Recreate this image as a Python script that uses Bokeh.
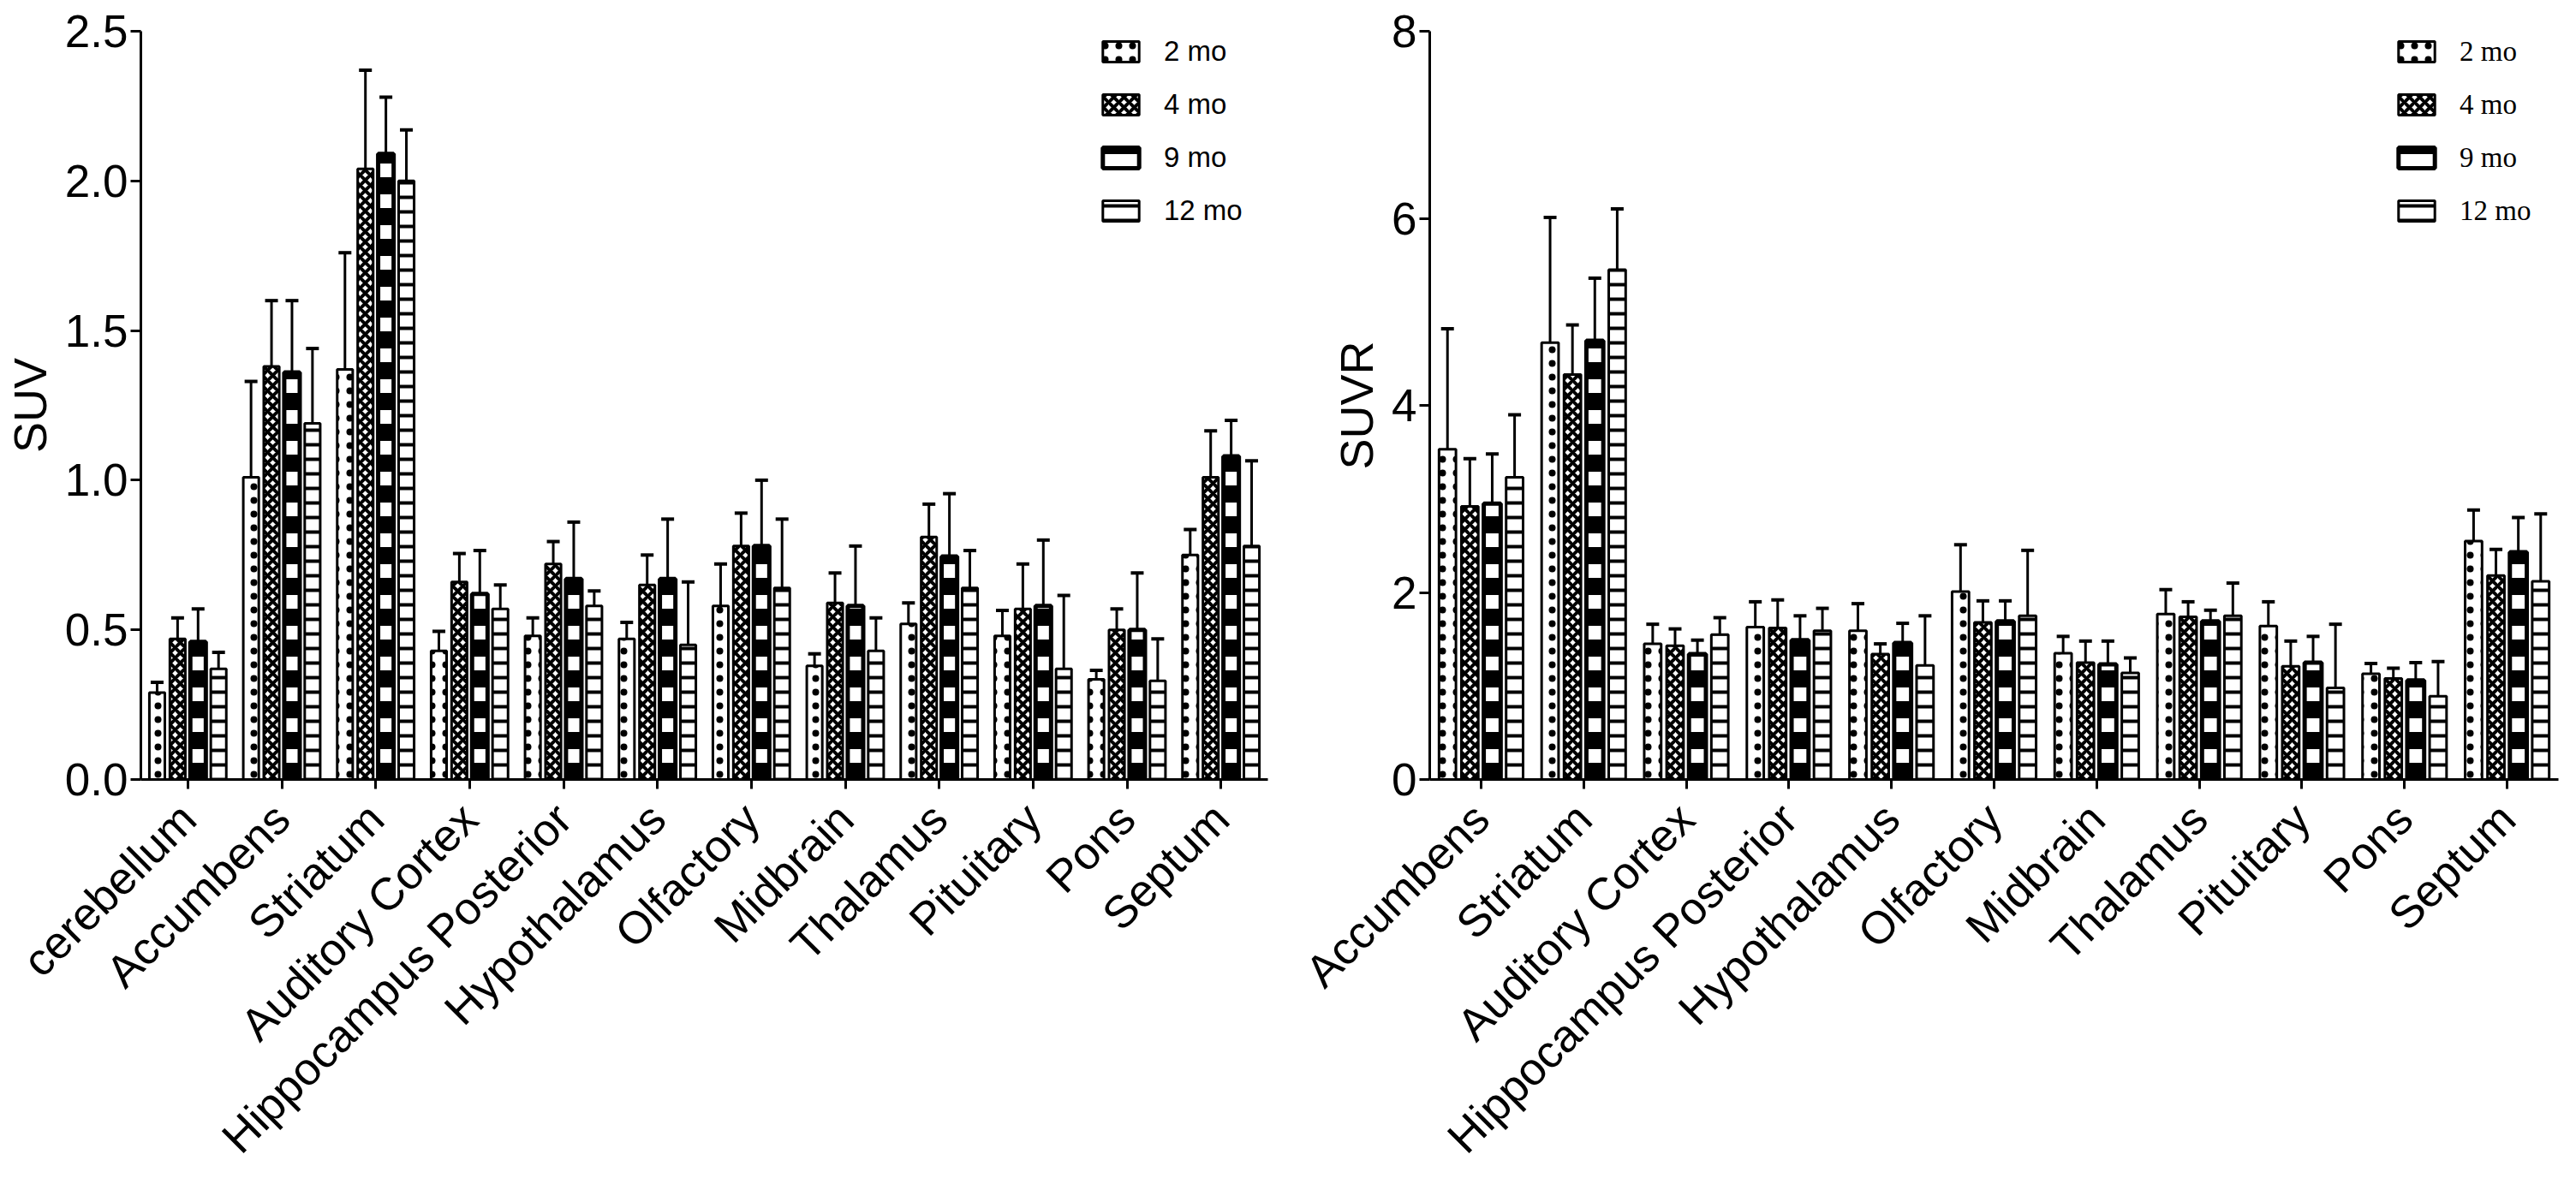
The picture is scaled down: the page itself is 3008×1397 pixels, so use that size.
import math
from bokeh.plotting import figure
from bokeh.models import (ColumnDataSource, FactorRange, Range1d, FixedTicker,
                          Whisker, TeeHead, Legend, LegendItem, PrintfTickFormatter)
from bokeh.transform import dodge
from bokeh.layouts import row
from bokeh.embed import file_html
from bokeh.resources import INLINE

# ---------------- data ----------------
groups = ["2 mo", "4 mo", "9 mo", "12 mo"]

suv_regions = ["cerebellum", "Accumbens", "Striatum", "Auditory Cortex",
               "Hippocampus Posterior", "Hypothalamus", "Olfactory", "Midbrain",
               "Thalamus", "Pituitary", "Pons", "Septum"]
suv_2mo = [0.29, 1.01, 1.37, 0.43, 0.48, 0.47, 0.58, 0.38, 0.52, 0.48, 0.335, 0.75]
suv_4mo = [0.47, 1.38, 2.04, 0.66, 0.72, 0.65, 0.78, 0.59, 0.81, 0.57, 0.50, 1.01]
suv_9mo = [0.46, 1.36, 2.09, 0.62, 0.67, 0.67, 0.78, 0.58, 0.745, 0.58, 0.50, 1.08]
suv_12mo = [0.37, 1.19, 2.00, 0.57, 0.58, 0.45, 0.64, 0.43, 0.64, 0.37, 0.33, 0.78]
suv_2mo_sd = [0.035, 0.32, 0.39, 0.065, 0.06, 0.055, 0.14, 0.04, 0.07, 0.085, 0.03, 0.085]
suv_4mo_sd = [0.07, 0.22, 0.33, 0.095, 0.075, 0.10, 0.11, 0.10, 0.11, 0.15, 0.07, 0.155]
suv_9mo_sd = [0.11, 0.24, 0.19, 0.145, 0.19, 0.20, 0.22, 0.20, 0.21, 0.22, 0.19, 0.12]
suv_12mo_sd = [0.055, 0.25, 0.17, 0.08, 0.05, 0.21, 0.23, 0.11, 0.125, 0.245, 0.14, 0.285]
suv_ticks = [0, 0.5, 1.0, 1.5, 2.0, 2.5]

suvr_regions = ["Accumbens", "Striatum", "Auditory Cortex", "Hippocampus Posterior",
                "Hypothalamus", "Olfactory", "Midbrain", "Thalamus", "Pituitary",
                "Pons", "Septum"]
suvr_2mo = [3.53, 4.67, 1.45, 1.63, 1.59, 2.01, 1.35, 1.77, 1.64, 1.13, 2.55]
suvr_4mo = [2.92, 4.33, 1.43, 1.62, 1.34, 1.68, 1.25, 1.74, 1.21, 1.08, 2.18]
suvr_9mo = [2.95, 4.69, 1.34, 1.49, 1.46, 1.69, 1.23, 1.69, 1.25, 1.06, 2.43]
suvr_12mo = [3.23, 5.45, 1.55, 1.59, 1.22, 1.75, 1.14, 1.75, 0.98, 0.89, 2.12]
suvr_2mo_sd = [1.29, 1.34, 0.21, 0.27, 0.29, 0.50, 0.18, 0.26, 0.26, 0.11, 0.33]
suvr_4mo_sd = [0.51, 0.53, 0.18, 0.30, 0.11, 0.23, 0.23, 0.16, 0.27, 0.11, 0.28]
suvr_9mo_sd = [0.53, 0.67, 0.15, 0.26, 0.21, 0.22, 0.25, 0.12, 0.28, 0.19, 0.37]
suvr_12mo_sd = [0.67, 0.65, 0.18, 0.24, 0.53, 0.70, 0.16, 0.35, 0.68, 0.37, 0.72]
suvr_ticks = [0, 2, 4, 6, 8]

# ---------------- styles ----------------
PITCH = 0.218
BAR_W = 0.165
OFFSETS = [-1.5 * PITCH, -0.5 * PITCH, 0.5 * PITCH, 1.5 * PITCH]
SANS = "Liberation Sans"
SERIF = "Liberation Serif"

styles = [
    dict(fill_color="white", hatch_pattern="dot", hatch_color="black",
         hatch_scale=16, hatch_weight=1, line_width=3),
    dict(fill_color="white", hatch_pattern="diagonal_cross", hatch_color="black",
         hatch_scale=12, hatch_weight=4, line_width=3),
    dict(fill_color="black", hatch_pattern="horizontal_line", hatch_color="white",
         hatch_scale=36, hatch_weight=16, line_width=5),
    dict(fill_color="white", hatch_pattern="horizontal_line", hatch_color="black",
         hatch_scale=17, hatch_weight=4, line_width=3),
]


def make_chart(regions, means, sds, ymax, ticks, tick_fmt, ylabel, width,
               border_left, border_right, legend_x, legend_font):
    FRAME_TOP = 36
    HEIGHT = 1381
    BOTTOM = HEIGHT - 914
    frame_h = HEIGHT - FRAME_TOP - BOTTOM
    p = figure(x_range=FactorRange(*regions), y_range=Range1d(0, ymax),
               width=width, height=HEIGHT, output_backend="svg",
               toolbar_location=None, min_border_left=border_left,
               min_border_right=border_right, min_border_top=FRAME_TOP,
               min_border_bottom=BOTTOM)
    p.outline_line_color = None
    p.xgrid.visible = False
    p.ygrid.visible = False
    p.background_fill_color = "white"

    items = []
    for g, m, s, off, st in zip(groups, means, sds, OFFSETS, styles):
        src = ColumnDataSource(dict(region=regions, val=m,
                                    hi=[a + b for a, b in zip(m, s)]))
        w = Whisker(source=src, base=dodge("region", off, range=p.x_range),
                    upper="hi", lower="val", dimension="height",
                    line_color="black", line_width=3,
                    upper_head=TeeHead(size=15, line_width=4, line_color="black"),
                    lower_head=None)
        p.add_layout(w)
        r = p.vbar(x=dodge("region", off, range=p.x_range), top="val",
                   width=BAR_W, source=src, line_color="black", **st)
        items.append(LegendItem(label=g, renderers=[r]))

    ITEM_H = 38
    SPACING = 62 - ITEM_H
    leg_h = 4 * ITEM_H + 3 * SPACING
    legend = Legend(items=items,
                    location=(legend_x, frame_h - (13 - (ITEM_H - 30) / 2) - leg_h),
                    glyph_width=53, glyph_height=30, label_height=ITEM_H,
                    spacing=SPACING, padding=0, margin=0, label_standoff=24,
                    border_line_alpha=0, background_fill_alpha=0,
                    label_text_font=legend_font, label_text_font_size="33px",
                    label_text_color="black")
    p.add_layout(legend)

    ya = p.yaxis[0]
    ya.ticker = FixedTicker(ticks=ticks)
    ya.formatter = PrintfTickFormatter(format=tick_fmt)
    ya.minor_tick_line_color = None
    ya.major_tick_in = 0
    ya.major_tick_out = 12
    ya.major_tick_line_width = 3
    ya.axis_line_width = 3
    ya.major_label_standoff = 3
    ya.major_label_text_font = SANS
    ya.major_label_text_font_size = "53px"
    ya.major_label_text_color = "black"
    ya.axis_label = ylabel
    ya.axis_label_text_font = SANS
    ya.axis_label_text_font_size = "54px"
    ya.axis_label_text_font_style = "normal"
    ya.axis_label_text_color = "black"
    ya.axis_label_standoff = 8

    xa = p.xaxis[0]
    xa.major_label_orientation = math.pi / 4
    xa.major_tick_in = 0
    xa.major_tick_out = 11
    xa.major_tick_line_width = 3
    xa.axis_line_width = 3
    xa.major_label_standoff = 26
    xa.major_label_text_font = SANS
    xa.major_label_text_font_size = "53px"
    xa.major_label_text_color = "black"
    return p


suv_means = [suv_2mo, suv_4mo, suv_9mo, suv_12mo]
suv_sds = [suv_2mo_sd, suv_4mo_sd, suv_9mo_sd, suv_12mo_sd]
suvr_means = [suvr_2mo, suvr_4mo, suvr_9mo, suvr_12mo]
suvr_sds = [suvr_2mo_sd, suvr_4mo_sd, suvr_9mo_sd, suvr_12mo_sd]

p1 = make_chart(suv_regions, suv_means, suv_sds, 2.5, suv_ticks, "%.1f", "SUV",
                width=1500, border_left=164, border_right=20,
                legend_x=1118, legend_font=SANS)
p2 = make_chart(suvr_regions, suvr_means, suvr_sds, 8, suvr_ticks, "%d", "SUVR",
                width=1492, border_left=169, border_right=5,
                legend_x=1126, legend_font=SERIF)

layout = row(p1, p2)
open("out.html", "w").write(file_html(layout, INLINE))
